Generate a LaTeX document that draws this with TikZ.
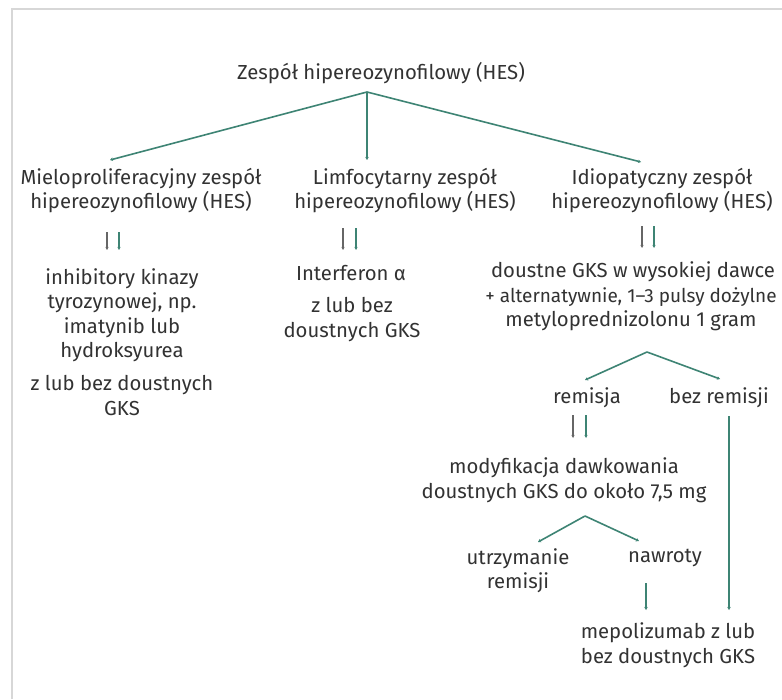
\documentclass[tikz,border=0pt]{standalone}
\usepackage{fontspec}
\setmainfont{Fira Sans}
\usetikzlibrary{arrows.meta}
\definecolor{teal1}{RGB}{62,132,116}
\definecolor{txt}{RGB}{50,50,50}
\definecolor{frame}{RGB}{215,215,215}
\tikzset{
  lbl/.style={align=center, inner sep=0pt, text=txt, font=\fontsize{20.3}{24.5}\selectfont},
  conn/.style={draw=teal1, line width=1.6pt, -{Stealth[length=3pt,width=3.5pt]}},
  dblg/.style={draw=gray!80!black, line width=1.2pt, -{Stealth[length=3pt,width=3pt]}},
  dblt/.style={draw=teal1, line width=1.2pt, -{Stealth[length=3pt,width=3pt]}}
}
\begin{document}
\begin{tikzpicture}[x=1pt,y=-1pt]
\useasboundingbox (0,0) rectangle (782,699);
\fill[white] (0,0) rectangle (782,699);
\draw[frame, line width=2pt] (12,699) -- (12,9) -- (782,9);

% nodes
\node[lbl] (title) at (381,73) {Zespół hipereozynofilowy (HES)};
\node[lbl] (mielo) at (141,190.5) {Mieloproliferacyjny zespół\\hipereozynofilowy (HES)};
\node[lbl] (limfo) at (405,190.5) {Limfocytarny zespół\\hipereozynofilowy (HES)};
\node[lbl] (idio) at (662,190.5) {Idiopatyczny zespół\\hipereozynofilowy (HES)};
\node[lbl] (mtx1) at (122,315) {inhibitory kinazy\\tyrozynowej, np.\\imatynib lub\\hydroksyurea};
\node[lbl] (mtx2) at (122,395.5) {z lub bez doustnych\\GKS};
\node[lbl] (ltx1) at (351,273) {Interferon α};
\node[lbl] (ltx2) at (352,319.5) {z lub bez\\doustnych GKS};
\node[lbl] (itx1) at (633,272) {doustne GKS w wysokiej dawce};
\node[lbl] (itx2) at (631,309) {{\fontsize{19}{24.5}\selectfont + alternatywnie, 1–3 pulsy dożylne}\\metyloprednizolonu 1 gram};
\node[lbl] (rem) at (587,398) {remisja};
\node[lbl] (brem) at (719,398) {bez remisji};
\node[lbl] (modyf) at (564,480) {modyfikacja dawkowania\\doustnych GKS do około 7,5 mg};
\node[lbl] (utrz) at (518,570.5) {utrzymanie\\remisji};
\node[lbl] (nawr) at (665,558) {nawroty};
\node[lbl] (mepo) at (668,645) {mepolizumab z lub\\bez doustnych GKS};

% coordinates
\coordinate (a1) at (367,92);
\coordinate (e1m) at (110,160);
\coordinate (e1l) at (367,160);
\coordinate (e1i) at (641,162);
\coordinate (a2) at (647,352);
\coordinate (e2r) at (585,380);
\coordinate (e2b) at (720,379);
\coordinate (a3) at (585,516);
\coordinate (e3u) at (538,542);
\coordinate (e3n) at (639,541);
\coordinate (bs) at (729,416);
\coordinate (be) at (729,610);
\coordinate (ns) at (646,583);
\coordinate (ne) at (646,610);

\coordinate (m1s) at (107,232); \coordinate (m1e) at (107,250);
\coordinate (m2s) at (119,232); \coordinate (m2e) at (119,250);
\coordinate (l1s) at (343,228); \coordinate (l1e) at (343,250);
\coordinate (l2s) at (356,228); \coordinate (l2e) at (356,250);
\coordinate (i1s) at (642,226); \coordinate (i1e) at (642,248);
\coordinate (i2s) at (654,226); \coordinate (i2e) at (654,248);
\coordinate (r1s) at (573,415); \coordinate (r1e) at (573,438);
\coordinate (r2s) at (586,415); \coordinate (r2e) at (586,438);

% connectors
\draw[conn] (a1) -- (e1m);
\draw[conn] (a1) -- (e1l);
\draw[conn] (a1) -- (e1i);
\draw[conn] (a2) -- (e2r);
\draw[conn] (a2) -- (e2b);
\draw[conn] (a3) -- (e3u);
\draw[conn] (a3) -- (e3n);
\draw[conn] (bs) -- (be);
\draw[conn] (ns) -- (ne);

\draw[dblg] (m1s) -- (m1e); \draw[dblt] (m2s) -- (m2e);
\draw[dblg] (l1s) -- (l1e); \draw[dblt] (l2s) -- (l2e);
\draw[dblg] (i1s) -- (i1e); \draw[dblt] (i2s) -- (i2e);
\draw[dblg] (r1s) -- (r1e); \draw[dblt] (r2s) -- (r2e);
\end{tikzpicture}
\end{document}
